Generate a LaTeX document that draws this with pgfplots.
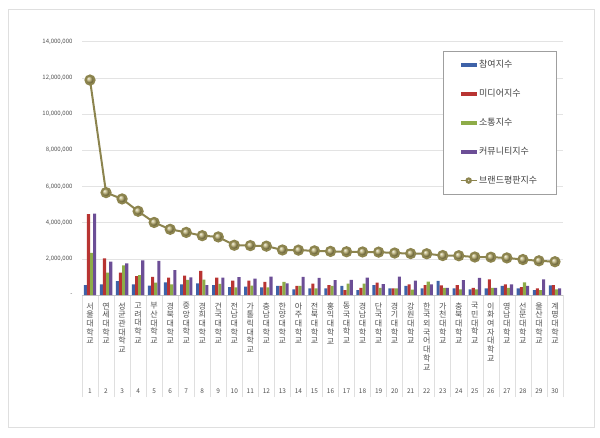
\documentclass[border=0pt]{standalone}
\usepackage{fontspec}
\setmainfont{Noto Sans CJK KR}
\usepackage{pgfplots}
\usepackage{pgfplotstable}
\pgfplotsset{compat=1.18}

\definecolor{cblue}{RGB}{62,98,168}
\definecolor{cred}{RGB}{184,52,50}
\definecolor{cgreen}{RGB}{142,172,72}
\definecolor{cpurple}{RGB}{108,78,150}
\definecolor{cline}{RGB}{140,132,78}
\definecolor{cball}{RGB}{176,165,100}
\definecolor{ctext}{RGB}{80,80,80}

% x, 참여, 미디어, 소통, 커뮤니티, 브랜드평판
\pgfplotstableread{
x  p       m       c       u       b
1  540000  4470000 2330000 4500000 11880000
2  590000  2020000 1230000 1840000 5660000
3  770000  1230000 1640000 1750000 5310000
4  590000  1050000 1100000 1920000 4630000
5  520000  1000000 680000  1890000 4010000
6  700000  960000  590000  1380000 3630000
7  590000  1070000 830000  980000  3460000
8  640000  1330000 850000  550000  3280000
9  550000  960000  610000  960000  3210000
10 440000  800000  420000  990000  2750000
11 460000  800000  520000  900000  2730000
12 420000  730000  420000  1020000 2700000
13 500000  500000  720000  640000  2490000
14 310000  500000  500000  1000000 2480000
15 370000  630000  370000  940000  2440000
16 370000  550000  500000  820000  2410000
17 500000  270000  630000  830000  2390000
18 270000  400000  630000  960000  2380000
19 550000  680000  400000  600000  2370000
20 370000  370000  370000  1020000 2320000
21 500000  590000  300000  790000  2290000
22 370000  550000  740000  590000  2280000
23 780000  530000  400000  400000  2180000
24 370000  550000  310000  820000  2170000
25 310000  400000  310000  940000  2100000
26 370000  870000  400000  400000  2090000
27 500000  590000  400000  590000  2050000
28 370000  440000  700000  500000  1960000
29 270000  370000  270000  870000  1890000
30 530000  550000  310000  370000  1840000
}\data

\begin{document}
\begin{tikzpicture}[x=1pt,y=1pt]
\path[use as bounding box] (0,0) rectangle (600,437);
\draw[gray!25, line width=0.8pt] (8.5,10) rectangle (594,428);
\begin{axis}[
  at={(82pt,142pt)}, anchor=south west, scale only axis,
  width=481pt, height=253.3pt,
  xmin=0.5, xmax=30.5, ymin=0, ymax=14000000,
  separate axis lines,
  axis x line*=bottom, axis y line*=left,
  x axis line style={draw=gray!45, -},
  y axis line style={draw=none},
  ymajorgrids, grid style={gray!22, line width=0.6pt},
  major tick length=0pt,
  tick align=outside,
  xtick pos=bottom, ytick pos=left,
  ytick={0,2000000,...,14000000},
  yticklabels={{-\hspace{3pt}},{2,000,000},{4,000,000},{6,000,000},{8,000,000},{10,000,000},{12,000,000},{14,000,000}},
  yticklabel style={font=\fontsize{6}{7}\selectfont, text=ctext, xshift=-6pt},
  scaled y ticks=false,
  xtick={1,...,30},
  xticklabels={
    {서\\울\\대\\학\\교},{연\\세\\대\\학\\교},{성\\균\\관\\대\\학\\교},{고\\려\\대\\학\\교},{부\\산\\대\\학\\교},
    {경\\북\\대\\학\\교},{중\\앙\\대\\학\\교},{경\\희\\대\\학\\교},{건\\국\\대\\학\\교},{전\\남\\대\\학\\교},
    {가\\톨\\릭\\대\\학\\교},{충\\남\\대\\학\\교},{한\\양\\대\\학\\교},{아\\주\\대\\학\\교},{전\\북\\대\\학\\교},
    {홍\\익\\대\\학\\교},{동\\국\\대\\학\\교},{경\\남\\대\\학\\교},{단\\국\\대\\학\\교},{경\\기\\대\\학\\교},
    {강\\원\\대\\학\\교},{한\\국\\외\\국\\어\\대\\학\\교},{가\\천\\대\\학\\교},{충\\북\\대\\학\\교},{국\\민\\대\\학\\교},
    {이\\화\\여\\자\\대\\학\\교},{영\\남\\대\\학\\교},{선\\문\\대\\학\\교},{울\\산\\대\\학\\교},{계\\명\\대\\학\\교}},
  xticklabel style={anchor=north, align=center, font=\fontsize{8}{8.7}\selectfont, text=ctext, yshift=-4pt},
  extra x ticks={1,...,30},
  extra x tick labels={1,2,3,4,5,6,7,8,9,10,11,12,13,14,15,16,17,18,19,20,21,22,23,24,25,26,27,28,29,30},
  extra x tick style={xticklabel style={font=\fontsize{6.5}{7}\selectfont, yshift=-86pt}},
  minor xtick={0.5,1.5,...,30.5},
  minor tick length=102pt,
  minor tick style={gray!25, line width=0.6pt},
  legend style={at={(0.7505,0.963)}, anchor=north west, draw=gray!75, fill=white,
    font=\fontsize{9}{10}\selectfont, text=black!75, row sep=16pt,
    inner xsep=17pt, inner ysep=7pt},
  legend cell align=left,
]
\addplot[ybar, bar width=3.1pt, bar shift=-4.65pt, fill=cblue, draw=none,
  legend image code/.code={\fill[cblue] (0pt,-2pt) rectangle (16pt,2pt);}]
  table[x=x,y=p]{\data};
\addplot[ybar, bar width=3.1pt, bar shift=-1.55pt, fill=cred, draw=none,
  legend image code/.code={\fill[cred] (0pt,-2pt) rectangle (16pt,2pt);}]
  table[x=x,y=m]{\data};
\addplot[ybar, bar width=3.1pt, bar shift=1.55pt, fill=cgreen, draw=none,
  legend image code/.code={\fill[cgreen] (0pt,-2pt) rectangle (16pt,2pt);}]
  table[x=x,y=c]{\data};
\addplot[ybar, bar width=3.1pt, bar shift=4.65pt, fill=cpurple, draw=none,
  legend image code/.code={\fill[cpurple] (0pt,-2pt) rectangle (16pt,2pt);}]
  table[x=x,y=u]{\data};
\addplot[sharp plot, cline, line width=2pt, mark=ball, mark size=4.6pt,
  mark options={ball color=cball, draw=none},
  legend image code/.code={\draw[cline, line width=1pt] (0pt,0pt) -- (16pt,0pt);
    \shade[ball color=cball] (8pt,0pt) circle (2.2pt);}]
  table[x=x,y=b]{\data};
\legend{참여지수, 미디어지수, 소통지수, 커뮤니티지수, 브랜드평판지수}
\end{axis}
\end{tikzpicture}
\end{document}
